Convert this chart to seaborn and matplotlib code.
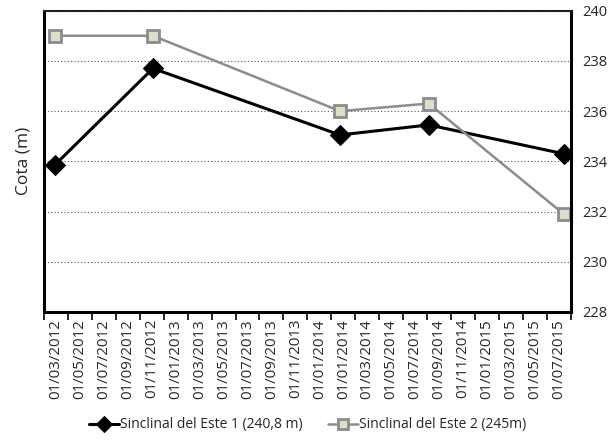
import pandas as pd
import numpy as np
import matplotlib
matplotlib.use("Agg")
import matplotlib.pyplot as plt
import matplotlib.dates as mdates
import seaborn as sns

# Etiquetas del eje X (tal como aparecen en el gráfico original)
etiquetas_x = [
    "01/03/2012", "01/05/2012", "01/07/2012", "01/09/2012", "01/11/2012",
    "01/01/2013", "01/03/2013", "01/05/2013", "01/07/2013", "01/09/2013",
    "01/11/2013", "01/01/2014", "01/01/2014", "01/03/2014", "01/05/2014",
    "01/07/2014", "01/09/2014", "01/11/2014", "01/01/2015", "01/03/2015",
    "01/05/2015", "01/07/2015",
]
inicio_eje = "2012-02-15"
paso_dias = 58

# Fechas de medida (estimadas) y cotas
fechas = ["2012-03-12", "2012-11-05", "2014-02-01", "2014-09-04", "2015-07-28"]
cota_este1 = [233.85, 237.7, 235.05, 235.45, 234.3]
cota_este2 = [239.0, 239.0, 236.0, 236.3, 231.9]

nombre1 = "Sinclinal del Este 1 (240,8 m)"
nombre2 = "Sinclinal del Este 2 (245m)"

df1 = pd.DataFrame({"fecha": pd.to_datetime(fechas), "cota": cota_este1})
df2 = pd.DataFrame({"fecha": pd.to_datetime(fechas), "cota": cota_este2})

sns.set_style("white")
plt.rcParams["font.family"] = ["Open Sans", "DejaVu Sans"]

fig, ax = plt.subplots(figsize=(6.15, 4.45), dpi=100)
fig.subplots_adjust(left=0.0715, right=0.928, top=0.976, bottom=0.299)

sns.lineplot(data=df1, x="fecha", y="cota", ax=ax, color="black", linewidth=2.2,
             marker="D", markersize=10, markerfacecolor="black", markeredgecolor="black",
             label=nombre1)
sns.lineplot(data=df2, x="fecha", y="cota", ax=ax, color="#8c8c8c", linewidth=1.8,
             marker="s", markersize=8, markerfacecolor="#dfdecb", markeredgecolor="#8c8c8c",
             markeredgewidth=2, label=nombre2)

# Eje X: 22 intervalos iguales, etiqueta centrada en cada uno
x0 = mdates.date2num(pd.Timestamp(inicio_eje))
n = len(etiquetas_x)
bordes = x0 + np.arange(n + 1) * paso_dias
centros = bordes[:-1] + paso_dias / 2
ax.set_xlim(bordes[0], bordes[-1])
ax.set_xticks(bordes)
ax.set_xticklabels([""] * (n + 1))
ax.set_xticks(centros, minor=True)
ax.set_xticklabels(etiquetas_x, minor=True, rotation=90)
ax.tick_params(axis="x", which="major", direction="out", length=6, width=1.2, color="black", bottom=True)
ax.tick_params(axis="x", which="minor", length=0, pad=5, labelsize=10.8)
ax.set_xlabel("")

# Eje Y a la derecha
ax.set_ylim(228, 240)
ax.set_yticks(np.arange(228, 241, 2))
ax.yaxis.tick_right()
ax.yaxis.set_label_position("left")
ax.tick_params(axis="y", length=0, labelsize=10.5, pad=8)
ax.set_ylabel("Cota (m)", fontsize=12.5, labelpad=9)
ax.yaxis.grid(True, linestyle=(0, (1, 2)), color="#555555", linewidth=0.8)
ax.xaxis.grid(False)

for lado in ["left", "right", "bottom"]:
    ax.spines[lado].set_color("black")
    ax.spines[lado].set_linewidth(2.2)
ax.spines["top"].set_color("#222222")
ax.spines["top"].set_linewidth(1.5)

ax.legend(loc="center", bbox_to_anchor=(0.5, -0.375), ncol=2, frameon=False,
          fontsize=10, handlelength=2.2, columnspacing=1.8, handletextpad=0.05,
          markerscale=0.85)

plt.savefig("out.png", dpi=100)
